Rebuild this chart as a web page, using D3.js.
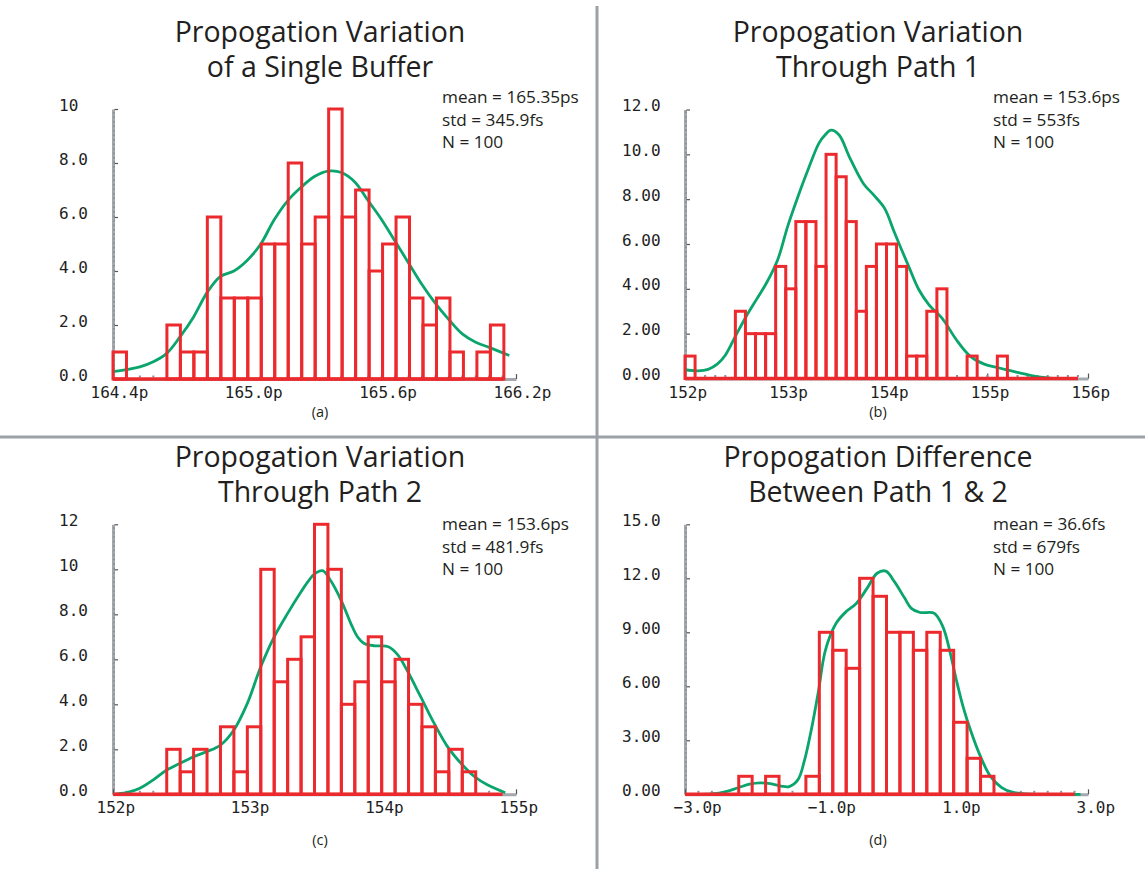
<!DOCTYPE html>
<html><head><meta charset="utf-8">
<script src="https://cdn.jsdelivr.net/npm/d3@7"></script>
<style>
body{margin:0;background:#fff;}
svg{display:block;}
.tick text{font-family:"DejaVu Sans Mono",monospace;font-size:16px;fill:#1e1e1e;font-feature-settings:"zero" 1;}
</style></head><body>
<svg id="c" width="1145" height="869"></svg>
<script>
// ---------- Panel (a) ----------
const titleA = ["Propogation Variation", "of a Single Buffer"];
const statsA = ["mean = 165.35ps", "std = 345.9fs", "N = 100"];
const captionA = "(a)";
const binStartA = 164.4, binWidthA = 0.0602;
const countsA = [1,0,0,0,2,1,1,6,3,3,3,5,5,8,5,6,10,6,7,4,5,6,3,2,3,1,0,1,2];
const curveA = [[164.4,0.27],[164.52,0.45],[164.58,0.64],[164.64,0.95],[164.70,1.57],[164.76,2.3],[164.82,3.2],[164.88,3.8],[164.94,4.0],[165.0,4.4],[165.06,5.0],[165.12,5.9],[165.18,6.6],[165.24,7.1],[165.30,7.5],[165.36,7.7],[165.42,7.65],[165.48,7.3],[165.54,6.6],[165.60,5.9],[165.66,5.1],[165.72,4.3],[165.78,3.5],[165.84,2.8],[165.90,2.2],[165.96,1.67],[166.02,1.36],[166.08,1.17],[166.17,0.87]];
const xDomainA = [164.4, 166.2];
const xTicksA = [164.4, 165.0, 165.6, 166.2];
const xLabelsA = ["164.4p","165.0p","165.6p","166.2p"];
const yDomainA = [0, 10];
const yTicksA = [0, 2, 4, 6, 8, 10];
const yLabelsA = ["0.0","2.0","4.0","6.0","8.0","10"];

// ---------- Panel (b) ----------
const titleB = ["Propogation Variation", "Through Path 1"];
const statsB = ["mean = 153.6ps", "std = 553fs", "N = 100"];
const captionB = "(b)";
const binStartB = 152.0, binWidthB = 0.1;
const countsB = [1,0,0,0,0,3,2,2,2,5,4,7,7,5,10,9,7,3,5,6,6,5,1,1,3,4,0,0,1,0,0,1,0,0,0,0,0,0,0];
const curveB = [[152.0,0.39],[152.13,0.34],[152.23,0.41],[152.32,0.64],[152.40,1.04],[152.51,1.97],[152.61,2.79],[152.71,3.53],[152.81,4.27],[152.92,5.3],[153.02,6.8],[153.12,8.1],[153.22,9.3],[153.33,10.5],[153.39,10.86],[153.45,11.08],[153.53,10.86],[153.63,9.9],[153.77,8.7],[153.87,8.2],[153.98,7.6],[154.08,6.5],[154.22,5.0],[154.32,3.97],[154.42,3.3],[154.56,2.64],[154.69,1.75],[154.83,1.0],[154.97,0.64],[155.10,0.49],[155.24,0.34],[155.38,0.19],[155.51,0.07],[155.65,0.01],[155.9,0]];
const xDomainB = [152, 156];
const xTicksB = [152, 153, 154, 155, 156];
const xLabelsB = ["152p","153p","154p","155p","156p"];
const yDomainB = [0, 12];
const yTicksB = [0, 2, 4, 6, 8, 10, 12];
const yLabelsB = ["0.00","2.00","4.00","6.00","8.00","10.0","12.0"];

// ---------- Panel (c) ----------
const titleC = ["Propogation Variation", "Through Path 2"];
const statsC = ["mean = 153.6ps", "std = 481.9fs", "N = 100"];
const captionC = "(c)";
const binStartC = 152.0, binWidthC = 0.1;
const countsC = [0,0,0,0,2,1,2,0,3,1,3,10,5,6,7,12,10,4,5,7,5,6,4,3,1,2,1,0,0];
const curveC = [[152.0,0],[152.10,0.07],[152.20,0.27],[152.30,0.64],[152.40,1.08],[152.50,1.38],[152.60,1.67],[152.70,1.9],[152.80,2.19],[152.90,2.86],[153.0,4.04],[153.10,5.67],[153.20,7.0],[153.30,8.04],[153.40,9.0],[153.45,9.44],[153.50,9.8],[153.56,9.94],[153.62,9.5],[153.70,8.6],[153.77,7.6],[153.82,7.0],[153.87,6.7],[153.95,6.6],[154.05,6.56],[154.12,6.2],[154.19,5.5],[154.29,4.34],[154.39,3.16],[154.49,2.12],[154.59,1.38],[154.69,0.79],[154.79,0.41],[154.92,0.07]];
const xDomainC = [152, 155];
const xTicksC = [152, 153, 154, 155];
const xLabelsC = ["152p","153p","154p","155p"];
const yDomainC = [0, 12];
const yTicksC = [0, 2, 4, 6, 8, 10, 12];
const yLabelsC = ["0.0","2.0","4.0","6.0","8.0","10","12"];

// ---------- Panel (d) ----------
const titleD = ["Propogation Difference", "Between Path 1 & 2"];
const statsD = ["mean = 36.6fs", "std = 679fs", "N = 100"];
const captionD = "(d)";
const binStartD = -3.0, binWidthD = 0.2;
const countsD = [0,0,0,0,1,0,1,0,0,1,9,8,7,12,11,9,9,8,9,8,4,2,1,0,0,0,0,0,0];
const curveD = [[-3.0,0],[-2.6,0.02],[-2.39,0.15],[-2.19,0.39],[-2.04,0.56],[-1.88,0.63],[-1.73,0.59],[-1.57,0.46],[-1.45,0.43],[-1.32,0.8],[-1.22,1.9],[-1.11,3.76],[-1.01,5.8],[-0.91,8.0],[-0.75,9.5],[-0.6,10.15],[-0.45,10.6],[-0.29,11.44],[-0.14,12.28],[-0.01,12.4],[0.12,11.8],[0.27,10.9],[0.37,10.33],[0.5,10.1],[0.71,10.06],[0.84,9.3],[0.94,8.0],[1.04,6.35],[1.14,4.87],[1.25,3.57],[1.4,2.09],[1.55,0.98],[1.71,0.39],[1.86,0.13],[2.07,0.02],[2.89,0]];
const xDomainD = [-3, 3];
const xTicksD = [-3, -1, 1, 3];
const xLabelsD = ["\u22123.0p","\u22121.0p","1.0p","3.0p"];
const yDomainD = [0, 15];
const yTicksD = [0, 3, 6, 9, 12, 15];
const yLabelsD = ["0.00","3.00","6.00","9.00","12.0","15.0"];

// ---------- Layout ----------
const RED = "#ec2a2e", GREEN = "#0aa56c", GRAY = "#a3a8ae";
const svg = d3.select("#c");

// dividers
svg.append("line").attr("x1",597).attr("x2",597).attr("y1",6).attr("y2",869)
  .attr("stroke","#9ca1a7").attr("stroke-width",3);
svg.append("line").attr("x1",0).attr("x2",1145).attr("y1",437).attr("y2",437)
  .attr("stroke","#9ca1a7").attr("stroke-width",3);

const panels = [
  {title:titleA, stats:statsA, cap:captionA, bs:binStartA, bw:binWidthA, counts:countsA, curve:curveA,
   xd:xDomainA, xt:xTicksA, xl:xLabelsA, yd:yDomainA, yt:yTicksA, yl:yLabelsA, minor:0.06,
   ox:113, x1:516, y0:379, yTop:109, labelX:59, xdx:-23, tx:320, ty:42, sx:442, sy:103, cy:417},
  {title:titleB, stats:statsB, cap:captionB, bs:binStartB, bw:binWidthB, counts:countsB, curve:curveB,
   xd:xDomainB, xt:xTicksB, xl:xLabelsB, yd:yDomainB, yt:yTicksB, yl:yLabelsB, minor:0.1,
   ox:685, x1:1088, y0:378.5, yTop:109.5, labelX:622, xdx:-17, tx:878, ty:42, sx:993, sy:103, cy:417},
  {title:titleC, stats:statsC, cap:captionC, bs:binStartC, bw:binWidthC, counts:countsC, curve:curveC,
   xd:xDomainC, xt:xTicksC, xl:xLabelsC, yd:yDomainC, yt:yTicksC, yl:yLabelsC, minor:0.1,
   ox:113, x1:516, y0:794.3, yTop:524.3, labelX:59, xdx:-17, tx:320, ty:467, sx:442, sy:530, cy:845},
  {title:titleD, stats:statsD, cap:captionD, bs:binStartD, bw:binWidthD, counts:countsD, curve:curveD,
   xd:xDomainD, xt:xTicksD, xl:xLabelsD, yd:yDomainD, yt:yTicksD, yl:yLabelsD, minor:0.2,
   ox:685, x1:1088, y0:794.3, yTop:524.3, labelX:622, xdx:-12, tx:878, ty:467, sx:993, sy:530, cy:845}
];

panels.forEach(p => {
  const g = svg.append("g");
  const x = d3.scaleLinear().domain(p.xd).range([p.ox, p.x1]);
  const y = d3.scaleLinear().domain(p.yd).range([p.y0, p.yTop]);

  // title
  const t = g.append("text").attr("x", p.tx).attr("y", p.ty).attr("text-anchor","middle")
    .style("font-family","'Open Sans', 'Noto Sans', sans-serif").style("font-size","28.5px").style("fill","#231f20");
  p.title.forEach((s,i) => t.append("tspan").attr("x", p.tx).attr("y", p.ty + i*35).text(s));

  // stats
  const st = g.append("text").style("font-family","'Open Sans', 'Noto Sans', sans-serif")
    .style("font-size","17.2px").style("fill","#231f20");
  p.stats.forEach((s,i) => st.append("tspan").attr("x", p.sx).attr("y", p.sy + i*22.5).text(s));

  // caption
  g.append("text").attr("x", p.tx).attr("y", p.cy).attr("text-anchor","middle")
    .style("font-family","'Open Sans', 'Noto Sans', sans-serif").style("font-size","14.5px").style("fill","#231f20")
    .text(p.cap);

  // left axis
  const ya = g.append("g").attr("transform", `translate(${p.ox},0)`)
    .call(d3.axisRight(y).tickValues(p.yt).tickSize(5).tickSizeOuter(0)
      .tickFormat((d,i) => p.yl[i]));
  ya.select(".domain").attr("stroke", GRAY).attr("stroke-width", 3);
  ya.selectAll(".tick line").attr("stroke","#555").attr("stroke-width",1.2).attr("x1",1.5);
  ya.selectAll(".tick text").attr("text-anchor","start").attr("x", p.labelX - p.ox).attr("dy", 1);
  // dashed minor marks on left axis
  g.append("line").attr("x1", p.ox + 1).attr("x2", p.ox + 1).attr("y1", p.y0).attr("y2", p.yTop)
    .attr("stroke", "#7d8288").attr("stroke-width", 1.2).attr("stroke-dasharray", "1.5,3");

  // bottom axis
  const xa = g.append("g").attr("transform", `translate(0,${p.y0})`)
    .call(d3.axisBottom(x).tickValues(p.xt).tickSizeInner(-5).tickSizeOuter(0)
      .tickFormat((d,i) => p.xl[i]));
  xa.select(".domain").attr("stroke", GRAY).attr("stroke-width", 3);
  xa.selectAll(".tick line").attr("stroke","#555").attr("stroke-width",1.2);
  xa.selectAll(".tick text").attr("text-anchor","start").attr("x", p.xdx).attr("y", 19).attr("dy", 0);
  // minor dots along bottom axis
  const nMinor = Math.round((p.xd[1]-p.xd[0])/p.minor);
  g.selectAll(".mdot").data(d3.range(1, nMinor)).join("rect")
    .attr("x", i => x(p.xd[0] + i*p.minor) - 1).attr("y", p.y0 - 3.5)
    .attr("width", 2).attr("height", 2).attr("fill", "#8d9298");

  // green density curve
  g.append("path").datum(p.curve)
    .attr("d", d3.line().x(d => x(d[0])).y(d => y(d[1])).curve(d3.curveCatmullRom.alpha(0.5)))
    .attr("fill","none").attr("stroke", GREEN).attr("stroke-width", 2.8);

  // histogram bars
  const bins = p.counts.map((c,i) => ({x0: p.bs + i*p.bw, x1: p.bs + (i+1)*p.bw, c}));
  g.selectAll(".bar").data(bins.filter(b => b.c > 0)).join("rect")
    .attr("x", b => x(b.x0)).attr("width", b => x(b.x1) - x(b.x0))
    .attr("y", b => y(b.c)).attr("height", b => y(0) - y(b.c))
    .attr("fill","none").attr("stroke", RED).attr("stroke-width", 3);
  // red baseline across all bins
  g.append("line").attr("x1", x(bins[0].x0)).attr("x2", x(bins[bins.length-1].x1))
    .attr("y1", y(0)).attr("y2", y(0)).attr("stroke", RED).attr("stroke-width", 3.5);
});
</script>
</body></html>
